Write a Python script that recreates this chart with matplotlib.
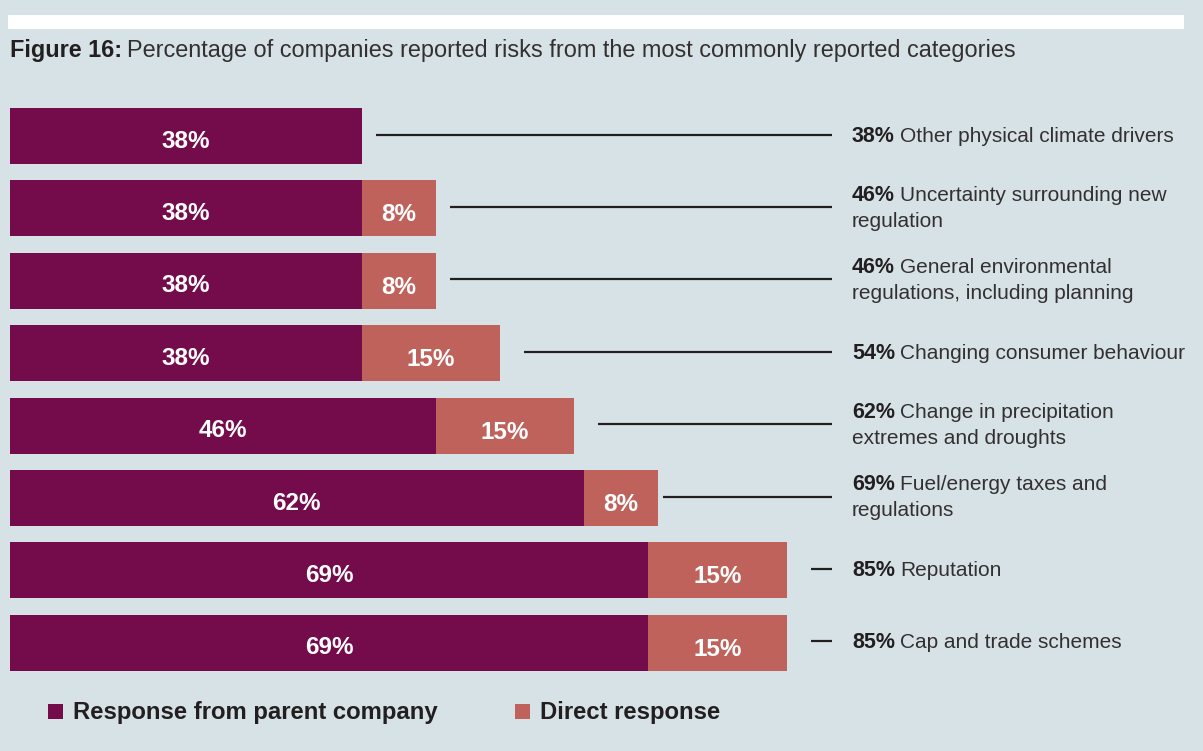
"""Stacked bar chart of commonly reported risk categories.

"""
import matplotlib.pyplot as plt
from matplotlib.patches import Rectangle

plt.rcParams['font.family'] = ['Liberation Sans', 'DejaVu Sans']

categories = [
    ['Other physical climate drivers'],
    ['Uncertainty surrounding new', 'regulation'],
    ['General environmental', 'regulations, including planning'],
    ['Changing consumer behaviour'],
    ['Change in precipitation', 'extremes and droughts'],
    ['Fuel/energy taxes and', 'regulations'],
    ['Reputation'],
    ['Cap and trade schemes'],
]
parent = [38, 38, 38, 38, 46, 62, 69, 69]
direct = [0, 8, 8, 15, 15, 8, 15, 15]
totals = [38, 46, 46, 54, 62, 69, 85, 85]
series_names = ['Response from parent company', 'Direct response']

BG = '#d7e2e6'
PARENT_C = '#740b4b'
DIRECT_C = '#be625b'
TEXT_C = '#231f20'
SOFT_C = '#333031'

W, H, DPI = 1203, 751, 100
PX_PER_PCT = 9.25
ROW_PX = 72.4
FIRST_ROW_PX = 136

fig = plt.figure(figsize=(W / DPI, H / DPI), dpi=DPI, facecolor=BG)
ax = fig.add_axes([0, 0, 1, 1])
ax.set_facecolor(BG)
ax.set_xlim(-10 / PX_PER_PCT, (W - 10) / PX_PER_PCT)
ax.set_ylim((H - FIRST_ROW_PX) / ROW_PX, -FIRST_ROW_PX / ROW_PX)
ax.axis('off')

# white strip along the top
fig.patches.append(Rectangle((8 / W, 1 - 29 / H), (1184 - 8) / W, 14 / H,
                             transform=fig.transFigure, facecolor='white',
                             edgecolor='none'))

fig.text(10 / W, 1 - 50 / H, 'Figure 16:', fontsize=16.8, fontweight='bold',
         color=TEXT_C, va='center')
fig.canvas.draw()
r = fig.canvas.get_renderer()
t0 = fig.texts[0].get_window_extent(r)
fig.text((t0.x1 + 5) / W, 1 - 50 / H,
         'Percentage of companies reported risks from the most commonly '
         'reported categories', fontsize=16.9, color=SOFT_C, va='center')

rows = range(len(categories))
bar_h = 56 / ROW_PX
ax.barh(rows, parent, height=bar_h, color=PARENT_C, left=0)
ax.barh(rows, direct, height=bar_h, color=DIRECT_C, left=parent)

line_end = (832 - 10) / PX_PER_PCT
label_x = (852 - 10) / PX_PER_PCT
line_gap = 26 / ROW_PX

for i in rows:
    ax.text(parent[i] / 2, i + 0.07, f'{parent[i]}%', color='white',
            fontsize=17.5, fontweight='bold', ha='center', va='center')
    if direct[i]:
        ax.text(parent[i] + direct[i] / 2, i + 0.09, f'{direct[i]}%',
                color='white', fontsize=17.5, fontweight='bold',
                ha='center', va='center')
    ax.plot([totals[i] + 1.6, line_end], [i - 0.02, i - 0.02],
            color=TEXT_C, lw=1.6, solid_capstyle='butt')

    lines = categories[i]
    y0 = i - (len(lines) - 1) * line_gap / 2
    val = ax.text(label_x, y0, f'{totals[i]}%', fontsize=15.5,
                  fontweight='bold', color=TEXT_C, va='center')
    bb = val.get_window_extent(r)
    x_after = ax.transData.inverted().transform((bb.x1 + 5, 0))[0]
    ax.text(x_after, y0, lines[0], fontsize=15, color=SOFT_C, va='center')
    for k, extra in enumerate(lines[1:], start=1):
        ax.text(label_x, y0 + k * line_gap, extra, fontsize=15,
                color=SOFT_C, va='center')

# legend
leg_y = 1 - 713 / H
for sx, tx, name, c in [(48, 73, series_names[0], PARENT_C),
                        (515, 540, series_names[1], DIRECT_C)]:
    fig.patches.append(Rectangle((sx / W, 1 - 719 / H), 15 / W, 15 / H,
                                 transform=fig.transFigure, facecolor=c,
                                 edgecolor='none'))
    fig.text(tx / W, leg_y, name, fontsize=17.2, fontweight='bold',
             color=TEXT_C, va='center')

fig.savefig('out.png', dpi=DPI, facecolor=BG)
